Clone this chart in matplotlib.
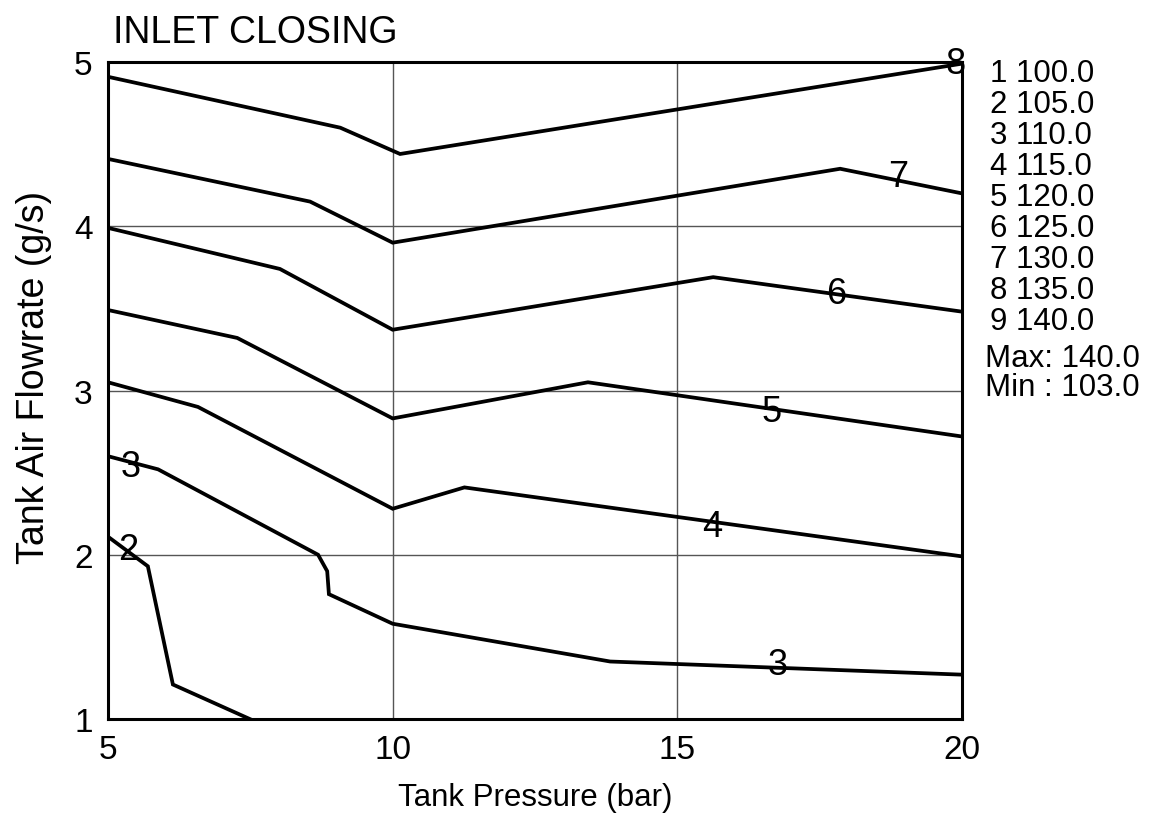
import matplotlib
matplotlib.use("Agg")
import matplotlib.pyplot as plt

plt.rcParams['font.family'] = ['Liberation Sans', 'DejaVu Sans']

# ---- data ----
p2 = [5.0, 5.70, 6.14, 7.49]
f2 = [2.11, 1.93, 1.21, 1.00]
p3 = [5.0, 5.88, 8.69, 8.85, 8.88, 10.0, 13.82, 20.0]
f3 = [2.60, 2.52, 2.00, 1.90, 1.76, 1.58, 1.35, 1.27]
p4 = [5.0, 6.58, 10.0, 11.26, 20.0]
f4 = [3.05, 2.90, 2.28, 2.41, 1.99]
p5 = [5.0, 7.27, 10.0, 13.43, 20.0]
f5 = [3.49, 3.32, 2.83, 3.05, 2.72]
p6 = [5.0, 8.02, 10.0, 15.63, 20.0]
f6 = [3.99, 3.74, 3.37, 3.69, 3.48]
p7 = [5.0, 8.55, 10.0, 17.86, 20.0]
f7 = [4.41, 4.15, 3.90, 4.35, 4.20]
p8 = [5.0, 9.08, 10.13, 20.0]
f8 = [4.91, 4.60, 4.44, 4.99]

label_text = ["2", "3", "3", "4", "5", "6", "7", "8"]
label_x = [5.35, 5.39, 16.77, 15.62, 16.65, 17.79, 18.88, 19.89]
label_y = [2.03, 2.54, 1.33, 2.17, 2.87, 3.59, 4.30, 4.99]

level_ids = [1, 2, 3, 4, 5, 6, 7, 8, 9]
level_vals = [100.0, 105.0, 110.0, 115.0, 120.0, 125.0, 130.0, 135.0, 140.0]
max_val = 140.0
min_val = 103.0

xticks = [5, 10, 15, 20]
yticks = [1, 2, 3, 4, 5]

# ---- figure ----
fig = plt.figure(figsize=(11.56, 8.28), dpi=100)
ax = fig.add_axes([108/1156, 1-720/828, (962-108)/1156, (720-63)/828])

ax.set_xlim(5, 20)
ax.set_ylim(1, 5)
ax.set_xticks(xticks)
ax.set_yticks(yticks)
ax.grid(True, color='#555555', lw=1.0)
ax.set_axisbelow(True)
ax.tick_params(length=0, labelsize=24, pad=11)

for s in ax.spines.values():
    s.set_linewidth(2.2)
    s.set_color('black')

for xs, ys in [(p2, f2), (p3, f3), (p4, f4), (p5, f5), (p6, f6), (p7, f7), (p8, f8)]:
    ax.plot(xs, ys, color='black', lw=2.7, solid_joinstyle='miter', zorder=3)

for t, x, y in zip(label_text, label_x, label_y):
    ax.text(x, y, t, fontsize=26, ha='center', va='center', zorder=4)

ax.set_xlabel('Tank Pressure (bar)', fontsize=22.5, labelpad=12)
ax.set_ylabel('Tank Air Flowrate (g/s)', fontsize=27)
ax.yaxis.set_label_coords(-(108-52)/854, (720-377)/657)

fig.text(113/1156, 1-43/828, 'INLET CLOSING', fontsize=27, ha='left', va='baseline')

# level legend at right
y0 = 74
dy = 31
for i, (n, v) in enumerate(zip(level_ids, level_vals)):
    fig.text(990/1156, 1-(y0 + i*dy)/828, f"{n} {v:.1f}", fontsize=22.5,
             ha='left', va='center')
fig.text(985/1156, 1-359/828, f"Max: {max_val:.1f}", fontsize=22.5, ha='left', va='center')
fig.text(985/1156, 1-388/828, f"Min : {min_val:.1f}", fontsize=22.5, ha='left', va='center')

fig.savefig('out.png', dpi=100)
